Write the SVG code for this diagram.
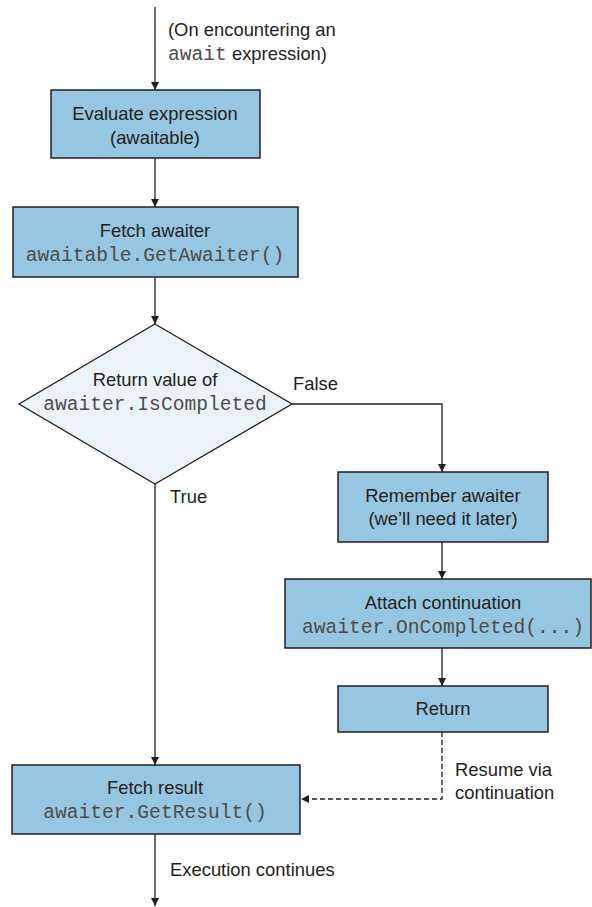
<svg xmlns="http://www.w3.org/2000/svg" width="592" height="907" viewBox="0 0 592 907">
<defs>
<marker id="arr" viewBox="0 0 10 10" refX="10" refY="5" markerWidth="8" markerHeight="8" markerUnits="userSpaceOnUse" orient="auto">
<path d="M0,0 L10,5 L0,10 z" fill="#231f20"/>
</marker>
</defs>
<style>
.box{fill:#97c6e2;stroke:#231f20;stroke-width:1.5}
.dia{fill:#eaf3f8;stroke:#231f20;stroke-width:1.3}
.t{font-family:"Liberation Sans",Arial,sans-serif;font-size:18.4px;fill:#231f20}
.m{font-family:"Liberation Mono","Courier New",monospace;font-size:19.6px;fill:#4d4d4d}
.c{text-anchor:middle}
.ln{fill:none;stroke:#231f20;stroke-width:1.3;marker-end:url(#arr)}
.dash{stroke-dasharray:5,3}
</style>
<rect width="592" height="907" fill="#ffffff"/>
<g id="connectors">
<path class="ln" d="M155,7 V90"/>
<path class="ln" d="M155,158 V207"/>
<path class="ln" d="M155,277 V324"/>
<path class="ln" d="M155,484 V765"/>
<path class="ln" d="M292,404 H442 V472"/>
<path class="ln" d="M442,542 V579"/>
<path class="ln" d="M442,648 V686"/>
<path class="ln dash" d="M442,732 V799 H301"/>
<path class="ln" d="M155,834 V906"/>
<text class="t" x="168" y="36">(On encountering an</text>
<text class="t" x="168" y="60"><tspan class="m" style="font-size:19.6px">await</tspan> expression)</text>
<text class="t" x="293" y="390">False</text>
<text class="t" x="170" y="503">True</text>
<text class="t" x="455" y="776">Resume via</text>
<text class="t" x="455" y="799">continuation</text>
<text class="t" x="170" y="876">Execution continues</text>
</g>
<g id="evaluate">
<rect class="box" x="51" y="90" width="209" height="68"/>
<text class="t c" x="155" y="120">Evaluate expression</text>
<text class="t c" x="155" y="144">(awaitable)</text>
</g>
<g id="fetch-awaiter">
<rect class="box" x="13" y="207" width="285" height="70"/>
<text class="t c" x="155" y="237">Fetch awaiter</text>
<text class="m c" x="155" y="261">awaitable.GetAwaiter()</text>
</g>
<g id="decision">
<polygon class="dia" points="155,324 292,404 155,484 19,404"/>
<text class="t c" x="155" y="386">Return value of</text>
<text class="m c" x="155" y="410">awaiter.IsCompleted</text>
</g>
<g id="remember">
<rect class="box" x="338" y="472" width="210" height="70"/>
<text class="t c" x="443" y="502">Remember awaiter</text>
<text class="t c" x="443" y="525">(we’ll need it later)</text>
</g>
<g id="attach">
<rect class="box" x="285" y="579" width="306" height="69"/>
<text class="t c" x="443" y="609">Attach continuation</text>
<text class="m c" x="443" y="633">awaiter.OnCompleted(...)</text>
</g>
<g id="return">
<rect class="box" x="338" y="686" width="210" height="46"/>
<text class="t c" x="443" y="715">Return</text>
</g>
<g id="fetch-result">
<rect class="box" x="12" y="765" width="288" height="69"/>
<text class="t c" x="155" y="794">Fetch result</text>
<text class="m c" x="155" y="818">awaiter.GetResult()</text>
</g>
</svg>
